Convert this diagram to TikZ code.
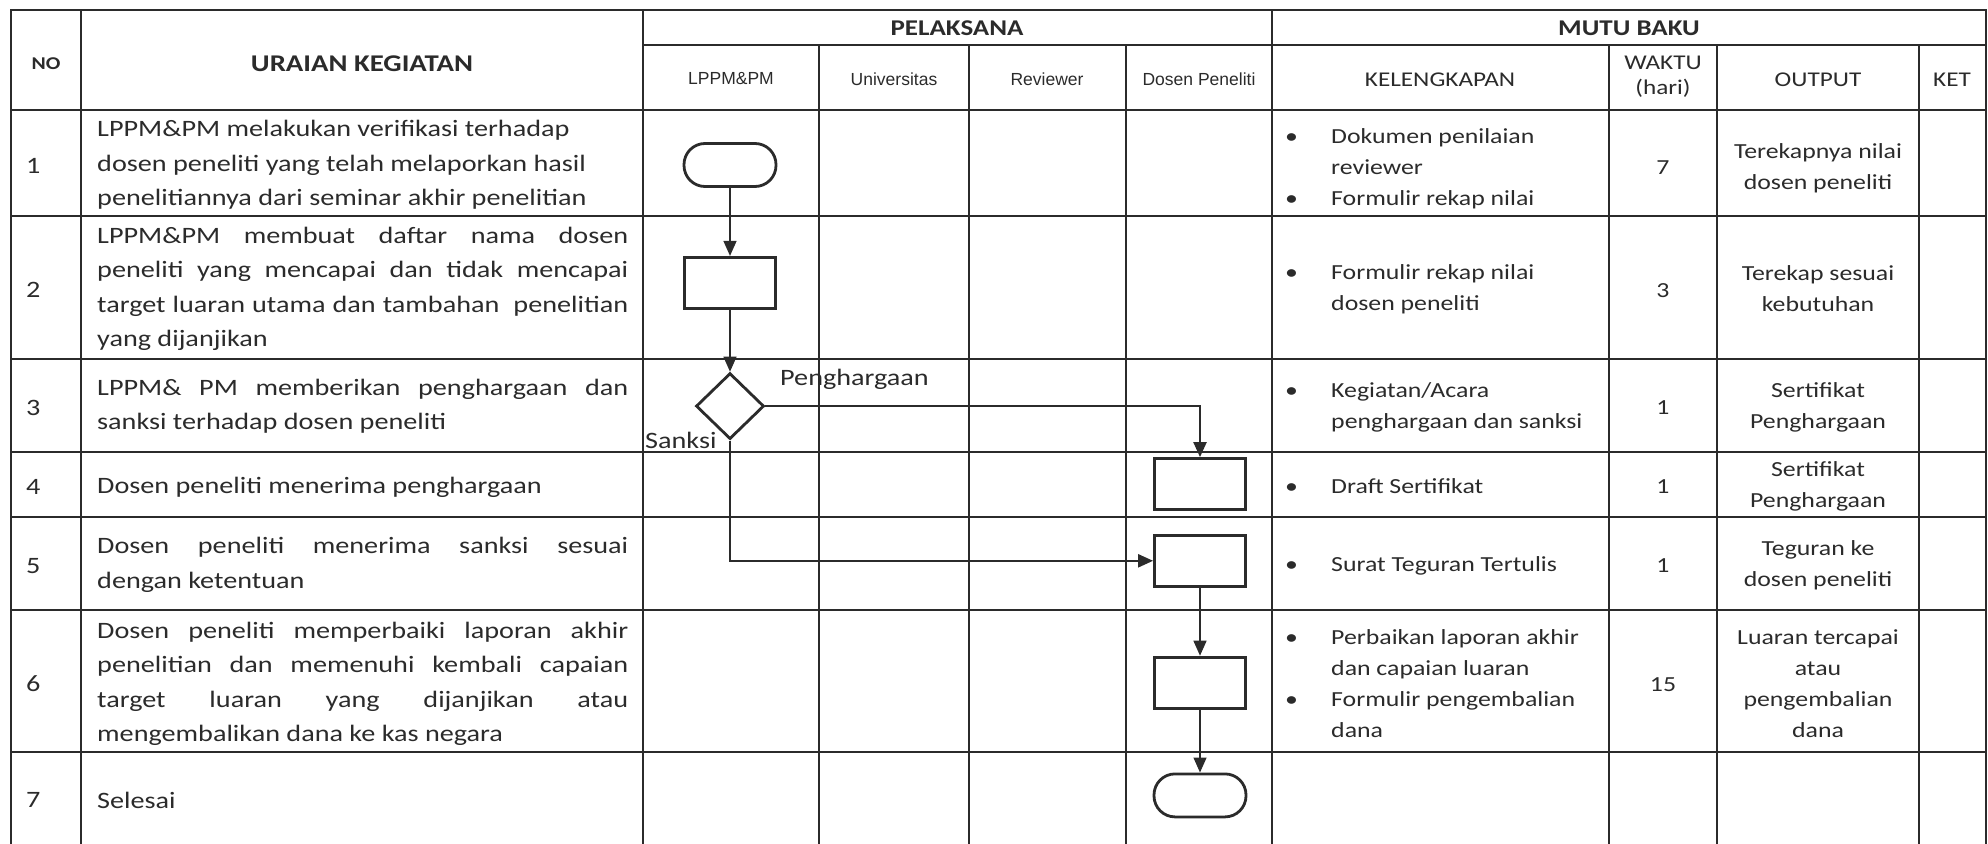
\documentclass[tikz,border=0pt]{standalone}
\usepackage{fontspec}
\setmainfont{Carlito}[FakeStretch=1.2]
\newfontfamily\arialfont{Liberation Sans}
\usetikzlibrary{positioning,shapes.geometric,arrows.meta}
\definecolor{tinta}{HTML}{2B2B2B}
\newcommand\isifont{\fontsize{23.5pt}{34.5pt}\selectfont}
\newcommand\mutufont{\fontsize{21.5pt}{31pt}\selectfont}
\newcommand\judulfont{\fontsize{22.5pt}{27pt}\selectfont\bfseries}
\newcommand\nofont{\fontsize{18pt}{20pt}\selectfont\bfseries}
\newcommand\kolomfont{\fontsize{21pt}{25pt}\selectfont}
\newcommand\pelfont{\arialfont\fontsize{17.5pt}{20pt}\selectfont}
\newcommand\tumpuk[1]{\vbox{#1}}
\newcommand\rata[1]{\hbox to 531pt{#1}}
\newcommand\baris[1]{\hbox{#1}}
\newcommand\bul{\makebox[46pt][l]{\textbullet}}
\newcommand\lanjut{\kern46pt}
\tikzset{garis/.style={draw=tinta,line width=1.8pt,line cap=rect}}
\tikzset{basic/.style={draw=tinta,line width=2.8pt,fill=white,inner sep=0pt}}
\tikzset{proses/.style={basic,rectangle,minimum width=91pt,minimum height=51pt}}
\tikzset{terminal/.style={basic,rectangle,rounded corners=21pt,minimum width=92pt,minimum height=43pt}}
\tikzset{keputusan/.style={basic,diamond,minimum width=68pt,minimum height=66pt}}
\tikzset{alur/.style={draw=tinta,line width=1.4pt,-{Triangle[length=15pt,width=13pt]}}}
\tikzset{cabang/.style={alur,line width=2.2pt}}
\tikzset{isi/.style={inner sep=0pt,text=tinta,font=\isifont}}
\tikzset{syarat/.style={inner sep=0pt,text=tinta,font=\mutufont}}
\tikzset{mutu/.style={syarat,align=center}}
\tikzset{judul/.style={inner sep=0pt,text=tinta,font=\judulfont}}
\tikzset{kolom/.style={inner sep=0pt,text=tinta,font=\kolomfont,align=center}}
\tikzset{pelaksana/.style={inner sep=0pt,text=tinta,font=\pelfont}}

\begin{document}
\begin{tikzpicture}[x=1pt,y=-1pt]
    \useasboundingbox (0,0) rectangle (1988,843);
    \foreach \x in {11,81,643,1272,1986} \draw[garis] (\x,10) -- (\x,843);
    \foreach \x in {819,969,1126,1609,1717,1919} \draw[garis] (\x,45) -- (\x,843);
    \draw[garis] (643,45) -- (1986,45);
    \foreach \y in {10,110,216,359,452,517,610,752} \draw[garis] (11,\y) -- (1986,\y);

    \node[judul,font=\nofont] (hno) at (46,64) {NO};
    \node[judul,font=\fontsize{24pt}{27pt}\selectfont\bfseries] (huraian) at (362,64) {URAIAN KEGIATAN};
    \node[judul] (hpelaksana) at (957,28) {PELAKSANA};
    \node[judul] (hmutu) at (1629,28) {MUTU BAKU};
    \node[pelaksana] (hlppm) at (731,79) {LPPM\&PM};
    \node[pelaksana] (huniv) at (894,79) {Universitas};
    \node[pelaksana] (hrev) at (1047,79) {Reviewer};
    \node[pelaksana] (hdosen) at (1199,79) {Dosen Peneliti};
    \node[kolom] (hkel) at (1440,80) {KELENGKAPAN};
    \node[kolom] (hwaktu) at (1663,77) {WAKTU\\(hari)};
    \node[kolom] (houtput) at (1818,80) {OUTPUT};
    \node[kolom] (hket) at (1952,80) {KET};

    \foreach \n/\y in {1/166,2/290,3/408,4/487,5/566,6/684,7/800}
        \node[isi,anchor=west] (no\n) at (26,\y) {\n};

    \node[isi,anchor=west] (u1) at (97,165) {\tumpuk{\baris{LPPM\&PM melakukan verifikasi terhadap}\baris{dosen peneliti yang telah melaporkan hasil}\baris{penelitiannya dari seminar akhir penelitian}}};
    \node[isi,anchor=west] (u2) at (97,289) {\tumpuk{\rata{LPPM\&PM membuat daftar nama dosen}\rata{peneliti yang mencapai dan tidak mencapai}\rata{target luaran utama dan tambahan \ penelitian}\baris{yang dijanjikan}}};
    \node[isi,anchor=west] (u3) at (97,406) {\tumpuk{\rata{LPPM\& PM memberikan penghargaan dan}\baris{sanksi terhadap dosen peneliti}}};
    \node[isi,anchor=west] (u4) at (97,487) {\tumpuk{\baris{Dosen peneliti menerima penghargaan}}};
    \node[isi,anchor=west] (u5) at (97,565) {\tumpuk{\rata{Dosen peneliti menerima sanksi sesuai}\baris{dengan ketentuan}}};
    \node[isi,anchor=west] (u6) at (97,684) {\tumpuk{\rata{Dosen peneliti memperbaiki laporan akhir}\rata{penelitian dan memenuhi kembali capaian}\rata{target luaran yang dijanjikan atau}\baris{mengembalikan dana ke kas negara}}};
    \node[isi,anchor=west] (u7) at (97,800) {\tumpuk{\baris{Selesai}}};

    \node[syarat,anchor=west] (k1) at (1285,169) {\tumpuk{\baris{\bul Dokumen penilaian}\baris{\lanjut reviewer}\baris{\bul Formulir rekap nilai}}};
    \node[syarat,anchor=west] (k2) at (1285,289) {\tumpuk{\baris{\bul Formulir rekap nilai}\baris{\lanjut dosen peneliti}}};
    \node[syarat,anchor=west] (k3) at (1285,407) {\tumpuk{\baris{\bul Kegiatan/Acara}\baris{\lanjut penghargaan dan sanksi}}};
    \node[syarat,anchor=west] (k4) at (1285,486) {\tumpuk{\baris{\bul Draft Sertifikat}}};
    \node[syarat,anchor=west] (k5) at (1285,566) {\tumpuk{\baris{\bul Surat Teguran Tertulis}}};
    \node[syarat,anchor=west] (k6) at (1285,684) {\tumpuk{\baris{\bul Perbaikan laporan akhir}\baris{\lanjut dan capaian luaran}\baris{\bul Formulir pengembalian}\baris{\lanjut dana}}};

    \foreach \n/\w/\y in {1/7/168,2/3/291,3/1/408,4/1/487,5/1/566,6/15/685}
        \node[mutu] (w\n) at (1663,\y) {\w};

    \node[mutu] (o1) at (1818,168) {Terekapnya nilai\\dosen peneliti};
    \node[mutu] (o2) at (1818,289) {Terekap sesuai\\kebutuhan};
    \node[mutu] (o3) at (1818,407) {Sertifikat\\Penghargaan};
    \node[mutu] (o4) at (1818,486) {Sertifikat\\Penghargaan};
    \node[mutu] (o5) at (1818,565) {Teguran ke\\dosen peneliti};
    \node[mutu] (o6) at (1818,684) {Luaran tercapai\\atau\\pengembalian\\dana};

    \node[terminal] (mulai) at (730,165) {};
    \node[proses,below=68pt of mulai] (daftar) {};
        \path[alur] (mulai) -- (daftar);
    \node[keputusan,below=62pt of daftar] (putusan) {};
        \path[alur] (daftar) -- (putusan);
    \node[proses] (hargai) at (1200,484) {};
        \path[cabang] (putusan.east) -| (hargai.north);
    \node[proses,below=23pt of hargai] (tegur) {};
        \path[cabang] (putusan.south) |- (tegur.west);
    \node[proses,below=68pt of tegur] (perbaiki) {};
        \path[alur] (tegur) -- (perbaiki);
    \node[terminal,below=63pt of perbaiki] (selesai) {};
        \path[alur] (perbaiki) -- (selesai);
    \node[isi,anchor=base west] (lharga) at (780,385) {Penghargaan};
    \node[isi,anchor=base west] (lsanksi) at (645,448) {Sanksi};
\end{tikzpicture}
\end{document}
